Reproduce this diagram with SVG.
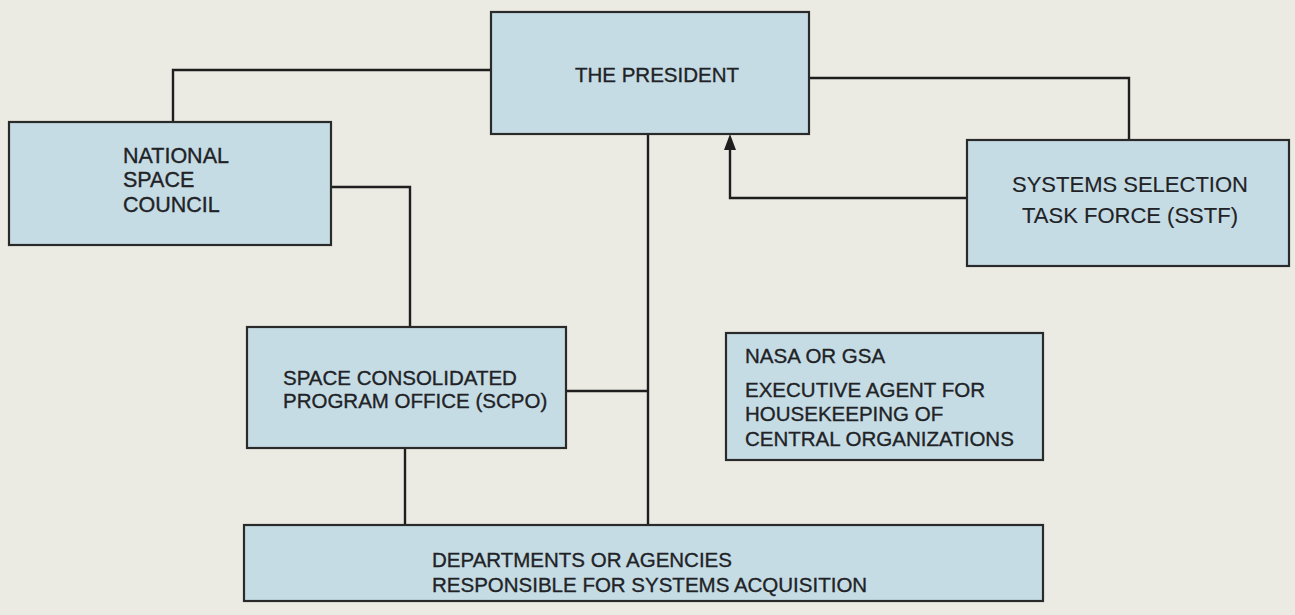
<svg xmlns="http://www.w3.org/2000/svg" width="1295" height="615" viewBox="0 0 1295 615">
<style>
.box{fill:#c6dce5;stroke:#2a2a2a;stroke-width:2.2}
.t{font-family:"Liberation Sans",Arial,sans-serif;font-size:20.5px;fill:#1f2326;stroke:#1f2326;stroke-width:0.35}
.c{fill:none;stroke:#1e1e1e;stroke-width:2.4}
</style>
<rect width="1295" height="615" fill="#ebebe4"/>
<g id="connectors">
<path class="c" d="M491,70 H173 V122"/>
<path class="c" d="M809,78 H1129 V140"/>
<path class="c" d="M967,198 H730 V148"/>
<path d="M724,150 L730,134 L736,150 Z" fill="#1e1e1e"/>
<path class="c" d="M648,134 V525"/>
<path class="c" d="M566,391 H648"/>
<path class="c" d="M331,187 H410 V327"/>
<path class="c" d="M405,448 V525"/>
</g>
<g id="president">
<rect class="box" x="491" y="12" width="318" height="122"/>
<text class="t" x="657" y="82" text-anchor="middle">THE PRESIDENT</text>
</g>
<g id="nsc">
<rect class="box" x="9" y="122" width="322" height="123"/>
<text class="t" x="123" y="163" style="font-size:21.5px">NATIONAL</text>
<text class="t" x="123" y="187" style="font-size:21.5px">SPACE</text>
<text class="t" x="123" y="212" style="font-size:21.5px">COUNCIL</text>
</g>
<g id="sstf">
<rect class="box" x="967" y="140" width="322" height="126"/>
<text class="t" x="1130" y="192" text-anchor="middle" style="font-size:22px;stroke-width:0.15">SYSTEMS SELECTION</text>
<text class="t" x="1130" y="223" text-anchor="middle" style="font-size:22px;stroke-width:0.15">TASK FORCE (SSTF)</text>
</g>
<g id="scpo">
<rect class="box" x="247" y="327" width="319" height="121"/>
<text class="t" x="283" y="385">SPACE CONSOLIDATED</text>
<text class="t" x="283" y="408">PROGRAM OFFICE (SCPO)</text>
</g>
<g id="nasa">
<rect class="box" x="726" y="333" width="317" height="127"/>
<text class="t" x="745" y="363">NASA OR GSA</text>
<text class="t" x="745" y="397">EXECUTIVE AGENT FOR</text>
<text class="t" x="745" y="421">HOUSEKEEPING OF</text>
<text class="t" x="745" y="446">CENTRAL ORGANIZATIONS</text>
</g>
<g id="departments">
<rect class="box" x="244" y="525" width="799" height="76"/>
<text class="t" x="432" y="567">DEPARTMENTS OR AGENCIES</text>
<text class="t" x="432" y="592">RESPONSIBLE FOR SYSTEMS ACQUISITION</text>
</g>
</svg>
